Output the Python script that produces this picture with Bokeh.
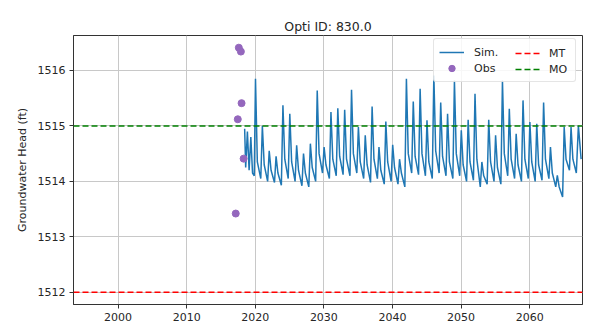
from bokeh.plotting import figure
from bokeh.models import Range1d, FixedTicker, Legend, LegendItem, Span
from bokeh.embed import file_html
from bokeh.resources import INLINE

# ---- data ----
obs_year = [2017.15, 2017.45, 2017.6, 2017.9, 2018.0, 2018.3]
obs_head = [1513.42, 1515.12, 1516.41, 1516.34, 1515.41, 1514.41]

sim_year = [
    2018.45, 2018.6, 2018.85, 2019.1, 2019.35, 2019.6, 2019.85,
    2020.03, 2020.3, 2020.8, 2021.03, 2021.3, 2021.8, 2022.03, 2022.3, 2022.8,
    2023.03, 2023.3, 2023.8, 2024.03, 2024.3, 2024.8, 2025.03, 2025.3, 2025.8,
    2026.03, 2026.3, 2026.8, 2027.03, 2027.3, 2027.8, 2028.03, 2028.3, 2028.8,
    2029.03, 2029.3, 2029.8, 2030.03, 2030.3, 2030.8, 2031.03, 2031.3, 2031.8,
    2032.03, 2032.3, 2032.8, 2033.03, 2033.3, 2033.8, 2034.03, 2034.3, 2034.8,
    2035.03, 2035.3, 2035.8, 2036.03, 2036.3, 2036.8, 2037.03, 2037.3, 2037.8,
    2038.03, 2038.3, 2038.8, 2039.03, 2039.3, 2039.8, 2040.03, 2040.3, 2040.8,
    2041.03, 2041.3, 2041.8, 2042.03, 2042.3, 2042.8, 2043.03, 2043.3, 2043.8,
    2044.03, 2044.3, 2044.8, 2045.03, 2045.3, 2045.8, 2046.03, 2046.3, 2046.8,
    2047.03, 2047.3, 2047.8, 2048.03, 2048.3, 2048.8, 2049.03, 2049.3, 2049.8,
    2050.03, 2050.3, 2050.8, 2051.03, 2051.3, 2051.8, 2052.03, 2052.3, 2052.8,
    2053.03, 2053.3, 2053.8, 2054.03, 2054.3, 2054.8, 2055.03, 2055.3, 2055.8,
    2056.03, 2056.3, 2056.8, 2057.03, 2057.3, 2057.8, 2058.03, 2058.3, 2058.8,
    2059.03, 2059.3, 2059.8, 2060.03, 2060.3, 2060.8, 2061.03, 2061.3, 2061.8,
    2062.03, 2062.3, 2062.8, 2063.03, 2063.3, 2063.8, 2064.03, 2064.3, 2064.8,
    2065.03, 2065.3, 2065.8, 2066.03, 2066.3, 2066.8, 2067.1, 2067.5,
]
sim_head = [
    1514.95, 1514.25, 1514.9, 1514.2, 1514.8, 1514.15, 1514.1,
    1515.85, 1514.35, 1514.05, 1515.0, 1514.3, 1514.0, 1514.55, 1514.2, 1513.98,
    1514.45, 1514.15, 1513.93, 1515.37, 1514.4, 1514.05, 1515.22, 1514.35, 1514.0,
    1514.65, 1514.2, 1513.92, 1514.5, 1514.15, 1513.9, 1514.68, 1514.25, 1514.0,
    1515.64, 1514.5, 1514.15, 1514.62, 1514.3, 1514.05, 1515.25, 1514.4, 1514.1,
    1515.32, 1514.45, 1514.12, 1515.29, 1514.4, 1514.1, 1515.65, 1514.5, 1514.15,
    1514.98, 1514.35, 1514.05, 1514.83, 1514.3, 1513.98, 1515.35, 1514.4, 1514.05,
    1514.62, 1514.2, 1513.95, 1515.08, 1514.35, 1514.0, 1514.66, 1514.25, 1513.95,
    1514.4, 1514.15, 1513.9, 1515.85, 1514.5, 1514.15, 1515.44, 1514.45, 1514.12,
    1515.67, 1514.5, 1514.1, 1515.1, 1514.35, 1514.05, 1515.91, 1514.55, 1514.15,
    1515.42, 1514.45, 1514.1, 1515.22, 1514.35, 1514.05, 1515.82, 1514.5, 1514.1,
    1514.92, 1514.3, 1514.0, 1515.11, 1514.35, 1514.02, 1515.58, 1514.4, 1513.9,
    1514.35, 1514.1, 1513.95, 1515.11, 1514.35, 1514.0, 1514.83, 1514.25, 1513.95,
    1515.82, 1514.5, 1514.1, 1515.31, 1514.4, 1514.05, 1514.86, 1514.3, 1514.0,
    1515.46, 1514.4, 1514.05, 1515.07, 1514.35, 1514.0, 1515.04, 1514.3, 1514.02,
    1515.42, 1514.4, 1514.05, 1514.62, 1514.15, 1513.9, 1514.11, 1513.9, 1513.72,
    1514.98, 1514.4, 1514.2, 1514.98, 1514.4, 1514.15, 1515.0, 1514.4,
]

mt_level = 1512.0
mo_level = 1515.0

x_ticks = [2000, 2010, 2020, 2030, 2040, 2050, 2060]
y_ticks = [1512, 1513, 1514, 1515, 1516]

FONT = "DejaVu Sans"
TXT = "#262626"
DASH = "6 3"

p = figure(width=585, height=333, output_backend="svg", toolbar_location=None,
           x_range=Range1d(1993.5, 2067.7), y_range=Range1d(1511.78, 1516.63),
           min_border_left=73, min_border_right=3, min_border_top=35,
           min_border_bottom=29)
p.title.text = "Opti ID: 830.0"
p.title.align = "center"
p.title.text_font = FONT
p.title.text_font_size = "12.5px"
p.title.text_font_style = "normal"
p.title.text_color = TXT
p.title.standoff = 3

p.outline_line_color = "#333333"
p.outline_line_width = 1
p.background_fill_color = "white"
p.border_fill_color = "white"

for ax in (p.xaxis[0], p.yaxis[0]):
    ax.axis_line_color = "#333333"
    ax.major_tick_out = 4
    ax.major_tick_in = 0
    ax.major_tick_line_color = "#333333"
    ax.minor_tick_line_color = None
    ax.major_label_text_font = FONT
    ax.major_label_text_font_size = "11px"
    ax.major_label_text_color = TXT
    ax.major_label_standoff = 4
    ax.axis_label_text_font = FONT
    ax.axis_label_text_font_size = "11px"
    ax.axis_label_text_font_style = "normal"
    ax.axis_label_text_color = TXT

p.xaxis.ticker = FixedTicker(ticks=x_ticks)
p.yaxis.ticker = FixedTicker(ticks=y_ticks)
p.yaxis.axis_label = "Groundwater Head (ft)"
p.yaxis.axis_label_standoff = 6

p.grid.grid_line_color = "#c8c8c8"
p.grid.grid_line_width = 1

sim_r = p.line(sim_year, sim_head, line_color="#1f77b4", line_width=1.5)
obs_r = p.scatter(obs_year, obs_head, size=7, fill_color="#9467bd",
                  line_color="#9467bd")

mt_span = Span(location=mt_level, dimension="width", line_color="#ff0000",
               line_dash=DASH, line_width=1.5)
mo_span = Span(location=mo_level, dimension="width", line_color="#008000",
               line_dash=DASH, line_width=1.5)
p.add_layout(mt_span)
p.add_layout(mo_span)

# one-point renderers: invisible in the plot, used only for the legend glyphs
mt_r = p.line([x_ticks[0]], [mt_level], line_color="#ff0000",
              line_dash=DASH, line_width=1.5)
mo_r = p.line([x_ticks[0]], [mo_level], line_color="#008000",
              line_dash=DASH, line_width=1.5)


def style_legend(lg, label_width, standoff):
    lg.label_text_font = FONT
    lg.label_text_font_size = "11px"
    lg.label_text_color = TXT
    lg.glyph_width = 25
    lg.glyph_height = 16
    lg.label_height = 16
    lg.label_width = label_width
    lg.label_standoff = standoff
    lg.spacing = 0
    lg.padding = 5
    lg.margin = 0


# locations: bottom-left corner of each legend box, in pixels from the
# frame's bottom-left corner
legend_a = Legend(items=[
    LegendItem(label="Sim.", renderers=[sim_r]),
    LegendItem(label="Obs", renderers=[obs_r]),
], location=(360, 222))
style_legend(legend_a, 96, 10)
legend_a.border_line_color = "#cccccc"
legend_a.border_radius = 3
legend_a.background_fill_alpha = 0.85

legend_b = Legend(items=[
    LegendItem(label="MT", renderers=[mt_r]),
    LegendItem(label="MO", renderers=[mo_r]),
], location=(437, 222))
style_legend(legend_b, 20, 9)
legend_b.border_line_color = "#cccccc"
legend_b.border_line_alpha = 0
legend_b.background_fill_color = "white"
legend_b.background_fill_alpha = 0

p.add_layout(legend_a)
p.add_layout(legend_b)

open("out.html", "w").write(file_html(p, INLINE))
